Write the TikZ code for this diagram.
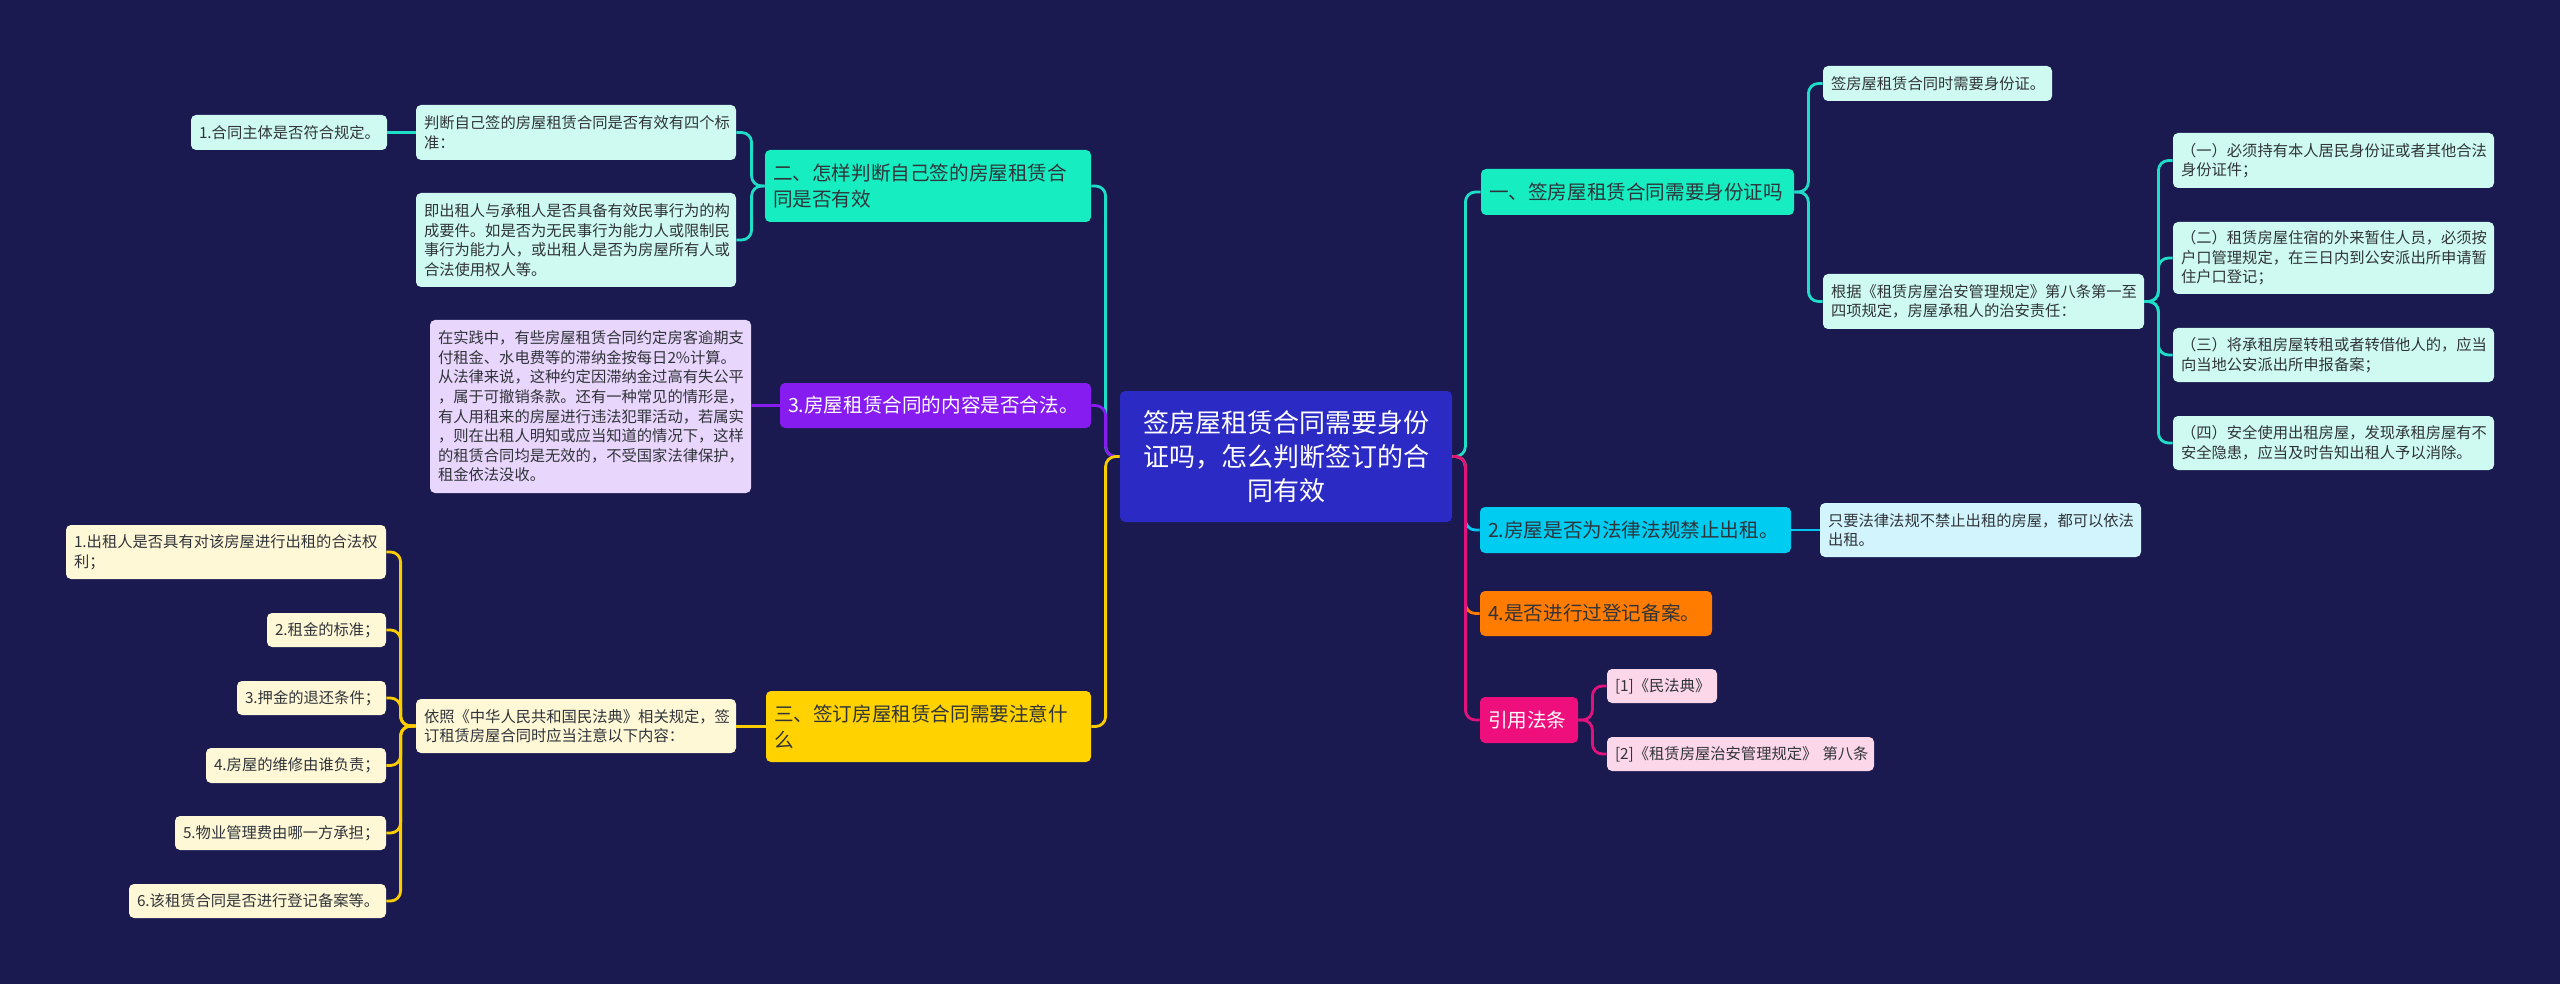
\documentclass[tikz,border=0pt]{standalone}
\usepackage{fontspec}
\setmainfont{Noto Sans CJK SC}
\definecolor{bg}{RGB}{26,25,80}
\definecolor{rootc}{RGB}{44,42,196}
\definecolor{tealB}{RGB}{22,238,194}
\definecolor{tealL}{RGB}{206,250,241}
\definecolor{tealLine}{RGB}{30,222,200}
\definecolor{purpleB}{RGB}{134,28,240}
\definecolor{purpleL}{RGB}{233,214,252}
\definecolor{purpleLine}{RGB}{134,28,240}
\definecolor{yellowB}{RGB}{255,210,0}
\definecolor{yellowL}{RGB}{255,248,215}
\definecolor{yellowLine}{RGB}{250,205,0}
\definecolor{cyanB}{RGB}{0,204,242}
\definecolor{cyanL}{RGB}{210,245,253}
\definecolor{cyanLine}{RGB}{0,200,240}
\definecolor{orangeB}{RGB}{255,124,0}
\definecolor{orangeLine}{RGB}{255,124,0}
\definecolor{pinkB}{RGB}{238,14,124}
\definecolor{pinkL}{RGB}{252,214,233}
\definecolor{pinkLine}{RGB}{226,18,124}
\definecolor{txtdark}{RGB}{48,52,58}
\newcommand\mmbox[7]{%
  \node[#2, minimum width={(#5-#3)*0.5pt}, minimum height={(#6-#4)*0.5pt},
        text width={(#5-#3-16)*0.5pt}]
    (#1) at ({(#3+#5)/2},{(#4+#6)/2}) {#7};}
\begin{document}
\begin{tikzpicture}[x=0.5pt,y=-0.5pt,
  every node/.style={rounded corners=2.5pt, inner xsep=4pt, inner ysep=0pt, align=left, text=txtdark},
  leafsty/.style={font=\fontsize{7.65pt}{9.8pt}\selectfont},
  branchsty/.style={font=\fontsize{9.8pt}{13pt}\selectfont},
  rootsty/.style={font=\fontsize{13pt}{17pt}\selectfont, align=center, text=white, fill=rootc},
  conn/.style={line width=1.4pt, rounded corners=5pt},
]
\fill[bg] (0,0) rectangle (2560,984);
\useasboundingbox (0,0) rectangle (2560,984);

% root
\mmbox{root}{rootsty}{1120}{391}{1452}{522}{签房屋租赁合同需要身份\\证吗，怎么判断签订的合\\同有效}

% right side
\mmbox{b1}{branchsty,fill=tealB}{1481}{169}{1794}{215}{一、签房屋租赁合同需要身份证吗}
\mmbox{a1}{leafsty,fill=tealL}{1823}{66}{2052}{101}{签房屋租赁合同时需要身份证。}
\mmbox{a2}{leafsty,fill=tealL}{1823}{274}{2144}{329}{根据《租赁房屋治安管理规定》第八条第一至\\四项规定，房屋承租人的治安责任：}
\mmbox{a21}{leafsty,fill=tealL}{2173}{133}{2494}{188}{（一）必须持有本人居民身份证或者其他合法\\身份证件；}
\mmbox{a22}{leafsty,fill=tealL}{2173}{222}{2494}{294}{（二）租赁房屋住宿的外来暂住人员，必须按\\户口管理规定，在三日内到公安派出所申请暂\\住户口登记；}
\mmbox{a23}{leafsty,fill=tealL}{2173}{328}{2494}{382}{（三）将承租房屋转租或者转借他人的，应当\\向当地公安派出所申报备案；}
\mmbox{a24}{leafsty,fill=tealL}{2173}{416}{2494}{470}{（四）安全使用出租房屋，发现承租房屋有不\\安全隐患，应当及时告知出租人予以消除。}
\mmbox{b4}{branchsty,fill=cyanB}{1480}{507}{1791}{553}{2.房屋是否为法律法规禁止出租。}
\mmbox{c1}{leafsty,fill=cyanL}{1820}{503}{2141}{557}{只要法律法规不禁止出租的房屋，都可以依法\\出租。}
\mmbox{b5}{branchsty,fill=orangeB}{1480}{591}{1712}{636}{4.是否进行过登记备案。}
\mmbox{b6}{branchsty,fill=pinkB,text=white}{1480}{697}{1578}{743}{引用法条}
\mmbox{d1}{leafsty,fill=pinkL}{1607}{669}{1717}{703}{[1]《民法典》}
\mmbox{d2}{leafsty,fill=pinkL}{1607}{737}{1874}{771}{[2]《租赁房屋治安管理规定》~第八条}

% left side
\mmbox{b2}{branchsty,fill=tealB}{765}{150}{1091}{222}{二、怎样判断自己签的房屋租赁合\\同是否有效}
\mmbox{e1}{leafsty,fill=tealL}{416}{105}{736}{160}{判断自己签的房屋租赁合同是否有效有四个标\\准：}
\mmbox{e2}{leafsty,fill=tealL}{416}{193}{736}{287}{即出租人与承租人是否具备有效民事行为的构\\成要件。如是否为无民事行为能力人或限制民\\事行为能力人，或出租人是否为房屋所有人或\\合法使用权人等。}
\mmbox{e11}{leafsty,fill=tealL}{191}{115}{387}{150}{1.合同主体是否符合规定。}
\mmbox{b3}{branchsty,fill=purpleB,text=white}{780}{383}{1091}{428}{3.房屋租赁合同的内容是否合法。}
\mmbox{f1}{leafsty,fill=purpleL}{430}{320}{751}{493}{在实践中，有些房屋租赁合同约定房客逾期支\\付租金、水电费等的滞纳金按每日2\%计算。\\从法律来说，这种约定因滞纳金过高有失公平\\，属于可撤销条款。还有一种常见的情形是，\\有人用租来的房屋进行违法犯罪活动，若属实\\，则在出租人明知或应当知道的情况下，这样\\的租赁合同均是无效的，不受国家法律保护，\\租金依法没收。}
\mmbox{b7}{branchsty,fill=yellowB}{766}{691}{1091}{762}{三、签订房屋租赁合同需要注意什\\么}
\mmbox{g1}{leafsty,fill=yellowL}{416}{699}{736}{753}{依照《中华人民共和国民法典》相关规定，签\\订租赁房屋合同时应当注意以下内容：}
\mmbox{h1}{leafsty,fill=yellowL}{66}{525}{386}{579}{1.出租人是否具有对该房屋进行出租的合法权\\利；}
\mmbox{h2}{leafsty,fill=yellowL}{267}{613}{386}{647}{2.租金的标准；}
\mmbox{h3}{leafsty,fill=yellowL}{237}{681}{386}{715}{3.押金的退还条件；}
\mmbox{h4}{leafsty,fill=yellowL}{206}{748}{386}{783}{4.房屋的维修由谁负责；}
\mmbox{h5}{leafsty,fill=yellowL}{175}{816}{386}{850}{5.物业管理费由哪一方承担；}
\mmbox{h6}{leafsty,fill=yellowL}{129}{884}{386}{918}{6.该租赁合同是否进行登记备案等。}

% connectors: root to branches
\draw[conn,tealLine] (root.east) -- ++(13,0) |- (b1.west);
\draw[conn,cyanLine] (root.east) -- ++(13,0) |- (b4.west);
\draw[conn,orangeLine] (root.east) -- ++(13,0) |- (b5.west);
\draw[conn,pinkLine] (root.east) -- ++(13,0) |- (b6.west);
\draw[conn,tealLine] (root.west) -- ++(-14,0) |- (b2.east);
\draw[conn,purpleLine] (root.west) -- ++(-14,0) |- (b3.east);
\draw[conn,yellowLine] (root.west) -- ++(-14,0) |- (b7.east);

% right sub-connectors
\foreach \c in {a1,a2} \draw[conn,tealLine] (b1.east) -- ++(14,0) |- (\c.west);
\foreach \c in {a21,a22,a23,a24} \draw[conn,tealLine] (a2.east) -- ++(14,0) |- (\c.west);
\draw[conn,cyanLine] (b4.east) -- (b4.east -| c1.west);
\foreach \c in {d1,d2} \draw[conn,pinkLine] (b6.east) -- ++(14,0) |- (\c.west);

% left sub-connectors
\foreach \c in {e1,e2} \draw[conn,tealLine] (b2.west) -- ++(-13,0) |- (\c.east);
\draw[conn,tealLine] (e1.west) -- (e1.west -| e11.east);
\draw[conn,purpleLine] (b3.west) -- (b3.west -| f1.east);
\draw[conn,yellowLine] (b7.west) -- (b7.west -| g1.east);
\foreach \c in {h1,h2,h3,h4,h5,h6} \draw[conn,yellowLine] (g1.west) -- ++(-15,0) |- (\c.east);
\end{tikzpicture}
\end{document}
